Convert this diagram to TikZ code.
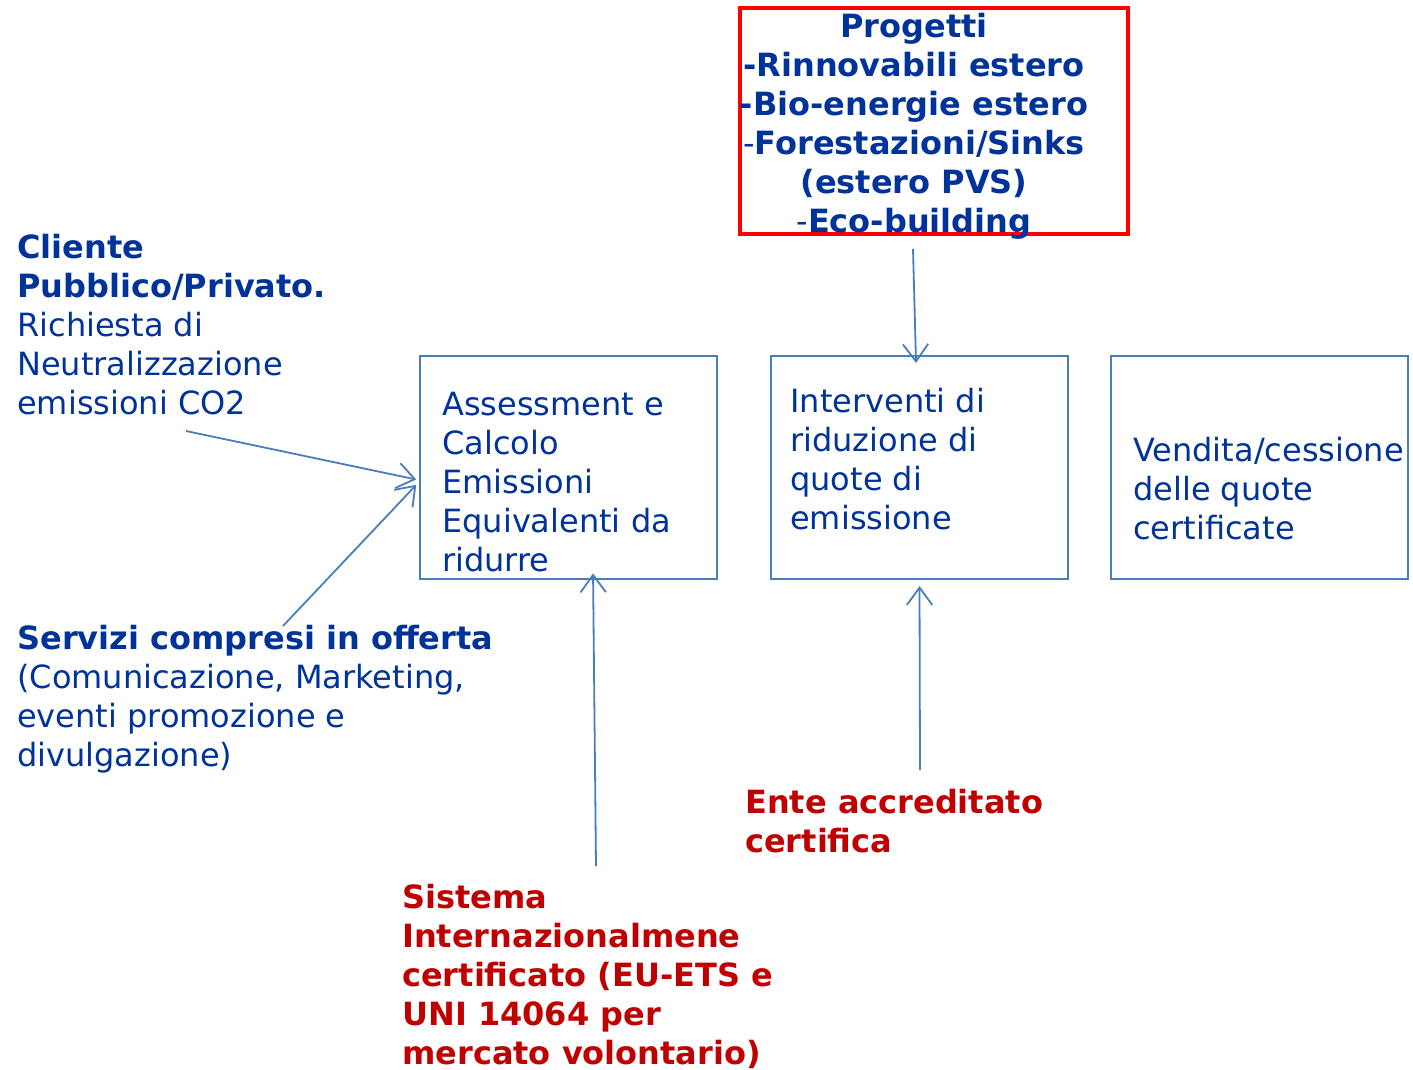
\documentclass[tikz,border=0pt]{standalone}
\usepackage{fontspec}
\setmainfont{DejaVu Sans}
\usetikzlibrary{arrows.meta}
\definecolor{txtblue}{RGB}{0,51,153}
\definecolor{lineblue}{RGB}{74,126,187}
\definecolor{txtred}{RGB}{192,0,0}
\definecolor{boxred}{RGB}{255,0,0}
\begin{document}
\begin{tikzpicture}[x=0.75pt,y=-0.75pt,
  txt/.style={anchor=north west, inner sep=0, align=left, text=txtblue,
    font=\fontsize{24}{29.25}\selectfont},
  redtxt/.style={txt, text=txtred, font=\fontsize{24}{29.25}\selectfont\bfseries},
  procbox/.style={draw=lineblue, line width=1.6pt, minimum width=222.75pt,
    minimum height=167.25pt, inner sep=0},
  conn/.style={draw=lineblue, line width=1.35pt,
    -{Straight Barb[length=13pt,width=19pt,line width=1.35pt]}}]
\useasboundingbox (0,0) rectangle (1413,1070);
\fill[white] (0,0) rectangle (1413,1070);

% boxes
\node[procbox] (boxA) at (568.5,467.5) {};
\node[procbox] (boxB) at (919.5,467.5) {};
\node[procbox] (boxC) at (1259.5,467.5) {};
\node[draw=boxred, line width=2.5pt, minimum width=291pt, minimum height=169.5pt, inner sep=0] (redbox) at (934,121) {};

% box texts
\node[txt] (tA) at (442,387.7) {\strut Assessment e\\Calcolo\\Emissioni\\Equivalenti da\\ridurre};
\node[txt] (tB) at (790,384.7) {\strut Interventi di\\riduzione di\\quote di\\emissione};
\node[txt] (tC) at (1133,433.7) {\strut Vendita/cessione\\delle quote\\certificate};

% projects
\node[txt, anchor=north, align=center, font=\fontsize{24}{29.25}\selectfont\bfseries] (prog) at (914,9.7)
  {\strut Progetti\\-Rinnovabili estero\\-Bio-energie estero\\{\mdseries-}Forestazioni/Sinks\\(estero PVS)\\{\mdseries-}Eco-building};

% left texts
\node[txt] (client) at (17,230.7) {\strut\textbf{Cliente}\\\textbf{Pubblico/Privato.}\\Richiesta di\\Neutralizzazione\\emissioni CO2};
\node[txt] (serv) at (17,621.7) {\strut\textbf{Servizi compresi in offerta}\\(Comunicazione, Marketing,\\eventi promozione e\\divulgazione)};

% red texts
\node[redtxt] (ente) at (745,785.7) {\strut Ente accreditato\\certifica};
\node[redtxt] (sist) at (402,880.7) {\strut Sistema\\Internazionalmene\\certificato (EU-ETS e\\UNI 14064 per\\mercato volontario)};

% connector start points
\coordinate (s1) at (186,431);
\coordinate (s2) at (283,626);
\coordinate (s3) at (596,866);
\coordinate (s4) at (920,770);
\coordinate (s5) at (913,249);

\draw[conn] (s1) -- ([xshift=-2pt,yshift=-9pt]boxA.west);
\draw[conn] (s2) -- ([xshift=-2pt,yshift=-13pt]boxA.west);
\draw[conn] (s3) -- ([xshift=18.4pt,yshift=5pt]boxA.south);
\draw[conn] (s4) -- ([yshift=-4.5pt]boxB.south);
\draw[conn] (s5) -- ([xshift=-2.6pt,yshift=-6pt]boxB.north);
\end{tikzpicture}
\end{document}
